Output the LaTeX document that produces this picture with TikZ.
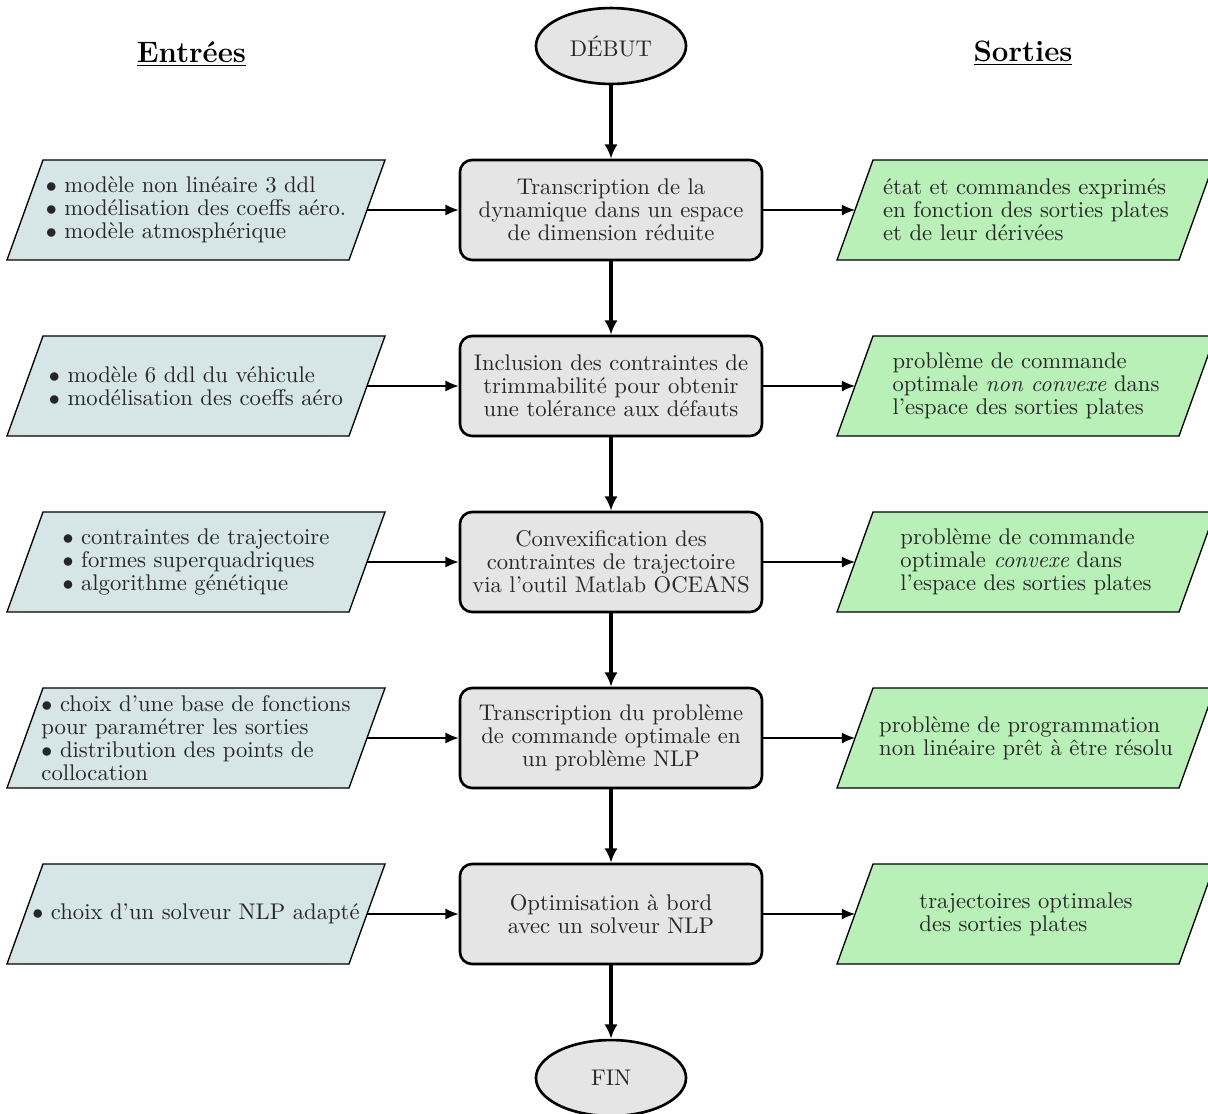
\documentclass[tikz,border=0pt]{standalone}
\usetikzlibrary{shapes.geometric,arrows.meta}
\definecolor{infill}{RGB}{214,229,229}
\definecolor{outfill}{RGB}{184,240,184}
\definecolor{boxfill}{RGB}{229,229,229}
\newcommand\drawpara[3]{\draw[#3] ({#1-153},{#2-50}) -- ({#1+189},{#2-50}) -- ({#1+153},{#2+50}) -- ({#1-189},{#2+50}) -- cycle;}
\tikzset{
 procbox/.style={draw, line width=1.2pt, rounded corners=5.5pt, fill=boxfill, minimum width=137.3pt, minimum height=45.45pt, align=center, text=black!85, font=\fontsize{10.3}{10.5}\selectfont, inner sep=0pt},
 termnode/.style={ellipse, draw, line width=1.2pt, fill=boxfill, minimum width=68.2pt, minimum height=34.5pt, text=black!85, inner sep=0pt, font=\fontsize{10.3}{10.5}\selectfont},
 partext/.style={align=left, text=black!85, font=\fontsize{10.3}{10.5}\selectfont, inner sep=0pt},
 inpar/.style={draw, line width=0.6pt, fill=infill},
 outpar/.style={draw, line width=0.6pt, fill=outfill},
 mainarrow/.style={line width=1.6pt, -{Latex[length=6.5pt,width=6pt]}},
 sidearrow/.style={line width=0.6pt, -{Latex[length=6pt,width=5pt]}},
 heading/.style={font=\fontsize{13.4}{15}\selectfont\bfseries, anchor=base, inner sep=0pt}
}
\begin{document}
\begin{tikzpicture}[x=0.4545pt, y=-0.4545pt]
\fill[white] (0,0) rectangle (1208,1113);
\useasboundingbox (0,0) rectangle (1208,1113);

% headings
\node[heading] (hin) at (191.5,62) {\underline{Entrées}};
\node[heading] (hout) at (1023,61) {\underline{Sorties}};

% terminals
\node[termnode] (deb) at (611,46) {DÉBUT};
\node[termnode] (fin) at (611,1078) {FIN};

% process boxes
\node[procbox] (b1) at (611,210) {Transcription de la\\dynamique dans un espace\\de dimension réduite};
\node[procbox] (b2) at (611,386) {Inclusion des contraintes de\\trimmabilité pour obtenir\\une tolérance aux défauts};
\node[procbox] (b3) at (611,562) {Convexification des\\contraintes de trajectoire\\via l’outil Matlab OCEANS};
\node[procbox] (b4) at (611,738) {Transcription du problème\\de commande optimale en\\un problème NLP};
\node[procbox] (b5) at (611,914) {Optimisation à bord\\avec un solveur NLP};

% input parallelograms
\drawpara{196}{210}{inpar}
\drawpara{196}{386}{inpar}
\drawpara{196}{562}{inpar}
\drawpara{196}{738}{inpar}
\drawpara{196}{914}{inpar}
% output parallelograms
\drawpara{1026}{210}{outpar}
\drawpara{1026}{386}{outpar}
\drawpara{1026}{562}{outpar}
\drawpara{1026}{738}{outpar}
\drawpara{1026}{914}{outpar}

% input texts
\node[partext] (in1) at (196,210) {$\bullet$ modèle non linéaire 3 ddl\\$\bullet$ modélisation des coeffs aéro.\\$\bullet$ modèle atmosphérique};
\node[partext] (in2) at (196,386) {$\bullet$ modèle 6 ddl du véhicule\\$\bullet$ modélisation des coeffs aéro};
\node[partext] (in3) at (196,562) {$\bullet$ contraintes de trajectoire\\$\bullet$ formes superquadriques\\$\bullet$ algorithme génétique};
\node[partext] (in4) at (196,738) {$\bullet$ choix d’une base de fonctions\\pour paramétrer les sorties\\$\bullet$ distribution des points de\\collocation};
\node[partext] (in5) at (196,914) {$\bullet$ choix d’un solveur NLP adapté};

% output texts
\node[partext] (out1) at (1026,210) {état et commandes exprimés\\en fonction des sorties plates\\et de leur dérivées};
\node[partext] (out2) at (1026,386) {problème de commande\\optimale \emph{non convexe} dans\\l’espace des sorties plates};
\node[partext] (out3) at (1026,562) {problème de commande\\optimale \emph{convexe} dans\\l’espace des sorties plates};
\node[partext] (out4) at (1026,738) {problème de programmation\\non linéaire prêt à être résolu};
\node[partext] (out5) at (1026,914) {trajectoires optimales\\des sorties plates};

% edge coordinates
\foreach \i/\y in {1/210,2/386,3/562,4/738,5/914}{
  \coordinate (ie\i) at (367,\y);
  \coordinate (ow\i) at (855,\y);
}

% main flow
\draw[mainarrow] (deb) -- (b1);
\draw[mainarrow] (b1) -- (b2);
\draw[mainarrow] (b2) -- (b3);
\draw[mainarrow] (b3) -- (b4);
\draw[mainarrow] (b4) -- (b5);
\draw[mainarrow] (b5) -- (fin);

% side arrows
\foreach \i in {1,...,5}{
  \draw[sidearrow] (ie\i) -- (b\i.west);
  \draw[sidearrow] (b\i.east) -- (ow\i);
}
\end{tikzpicture}
\end{document}
